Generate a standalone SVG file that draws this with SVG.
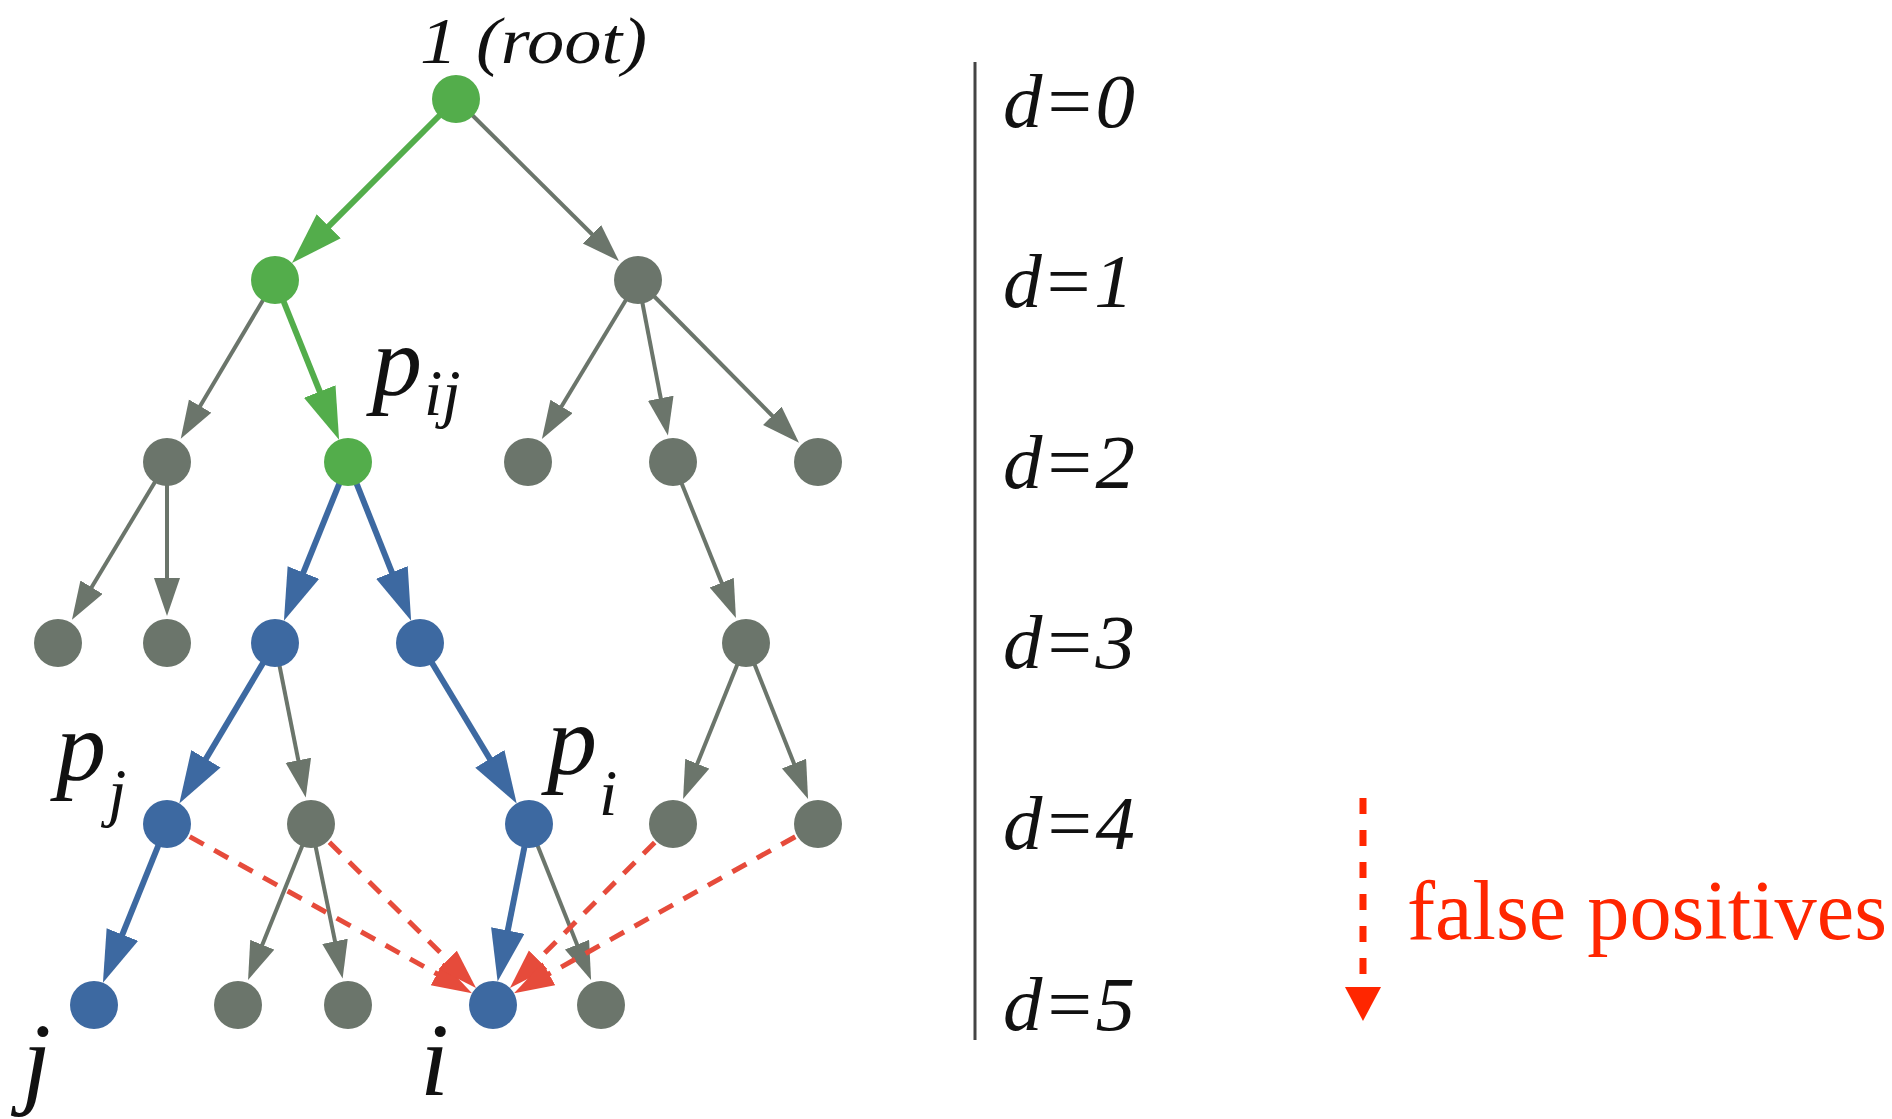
<svg xmlns="http://www.w3.org/2000/svg" width="1892" height="1119" viewBox="0 0 1892 1119">
<defs>
<style>
.g{stroke:#6B756B;stroke-width:4;fill:none}
.gr{stroke:#53AD4B;stroke-width:6;fill:none}
.b{stroke:#3D69A1;stroke-width:6;fill:none}
.r{stroke:#E64B3B;stroke-width:5;fill:none;stroke-dasharray:16 12}
.ng{fill:#6B756B}.ngr{fill:#53AD4B}.nb{fill:#3D69A1}
.m{font-family:"Liberation Serif","DejaVu Serif",serif;font-style:italic;fill:#111}
.lv{font-family:"Liberation Serif","DejaVu Serif",serif;font-style:italic;font-size:76px;fill:#111}
</style>
<marker id="ag" markerUnits="userSpaceOnUse" markerWidth="40" markerHeight="30" refX="4" refY="13" orient="auto"><path d="M0,0 L38,13 L0,26 z" fill="#6B756B"/></marker>
<marker id="agr" markerUnits="userSpaceOnUse" markerWidth="54" markerHeight="36" refX="4" refY="17" orient="auto"><path d="M0,0 L52,17 L0,34 z" fill="#53AD4B"/></marker>
<marker id="ab" markerUnits="userSpaceOnUse" markerWidth="54" markerHeight="36" refX="4" refY="17" orient="auto"><path d="M0,0 L52,17 L0,34 z" fill="#3D69A1"/></marker>
<marker id="ar" markerUnits="userSpaceOnUse" markerWidth="42" markerHeight="30" refX="4" refY="13" orient="auto"><path d="M0,0 L40,13 L0,26 z" fill="#E64B3B"/></marker>
</defs>
<rect width="1892" height="1119" fill="#fff"/>
<g id="connectors">
<line class="g" x1="456" y1="99" x2="594.8" y2="237.0" marker-end="url(#ag)"/>
<line class="g" x1="275" y1="280" x2="198.1" y2="409.5" marker-end="url(#ag)"/>
<line class="g" x1="638" y1="280" x2="559.5" y2="409.8" marker-end="url(#ag)"/>
<line class="g" x1="638" y1="280" x2="661.5" y2="402.1" marker-end="url(#ag)"/>
<line class="g" x1="638" y1="280" x2="775.1" y2="418.6" marker-end="url(#ag)"/>
<line class="g" x1="167" y1="462" x2="89.5" y2="590.7" marker-end="url(#ag)"/>
<line class="g" x1="167" y1="462" x2="167" y2="582" marker-end="url(#ag)"/>
<line class="g" x1="673" y1="462" x2="723.2" y2="586.4" marker-end="url(#ag)"/>
<line class="g" x1="275" y1="643" x2="299.1" y2="764.2" marker-end="url(#ag)"/>
<line class="g" x1="746" y1="643" x2="695.8" y2="767.4" marker-end="url(#ag)"/>
<line class="g" x1="746" y1="643" x2="795.5" y2="767.3" marker-end="url(#ag)"/>
<line class="g" x1="311" y1="824" x2="260.8" y2="948.4" marker-end="url(#ag)"/>
<line class="g" x1="311" y1="824" x2="335.8" y2="945.2" marker-end="url(#ag)"/>
<line class="g" x1="529" y1="824" x2="578.5" y2="948.3" marker-end="url(#ag)"/>
<line class="r" x1="189.7" y1="836.6" x2="440.5" y2="975.8" marker-end="url(#ar)"/>
<line class="r" x1="329.4" y1="842.3" x2="450.5" y2="962.7" marker-end="url(#ar)"/>
<line class="r" x1="654.7" y1="842.4" x2="535.3" y2="962.5" marker-end="url(#ar)"/>
<line class="r" x1="795.3" y1="836.7" x2="545.5" y2="975.8" marker-end="url(#ar)"/>
<line class="gr" x1="456" y1="99" x2="325.9" y2="229.1" marker-end="url(#agr)"/>
<line class="gr" x1="275" y1="280" x2="321.2" y2="395.2" marker-end="url(#agr)"/>
<line class="b" x1="348" y1="462" x2="301.9" y2="576.2" marker-end="url(#ab)"/>
<line class="b" x1="348" y1="462" x2="393.4" y2="576.1" marker-end="url(#ab)"/>
<line class="b" x1="275" y1="643" x2="203.9" y2="762.2" marker-end="url(#ab)"/>
<line class="b" x1="420" y1="643" x2="491.9" y2="762.3" marker-end="url(#ab)"/>
<line class="b" x1="167" y1="824" x2="120.9" y2="938.2" marker-end="url(#ab)"/>
<line class="b" x1="529" y1="824" x2="507.0" y2="934.4" marker-end="url(#ab)"/>
</g>
<g id="n-root"><circle class="ngr" cx="456" cy="99" r="24"/><text class="m" x="420" y="63" font-size="66" textLength="227" lengthAdjust="spacingAndGlyphs">1 (root)</text></g>
<g id="n-a1"><circle class="ngr" cx="275" cy="280" r="24"/></g>
<g id="n-a2"><circle class="ng" cx="638" cy="280" r="24"/></g>
<g id="n-b1"><circle class="ng" cx="167" cy="462" r="24"/></g>
<g id="n-pij"><circle class="ngr" cx="348" cy="462" r="24"/><text class="m" x="372" y="395" font-size="100">p</text><text class="m" x="424" y="415" font-size="66">ij</text></g>
<g id="n-b3"><circle class="ng" cx="528" cy="462" r="24"/></g>
<g id="n-b4"><circle class="ng" cx="673" cy="462" r="24"/></g>
<g id="n-b5"><circle class="ng" cx="818" cy="462" r="24"/></g>
<g id="n-c1"><circle class="ng" cx="58" cy="643" r="24"/></g>
<g id="n-c2"><circle class="ng" cx="167" cy="643" r="24"/></g>
<g id="n-c3"><circle class="nb" cx="275" cy="643" r="24"/></g>
<g id="n-c4"><circle class="nb" cx="420" cy="643" r="24"/></g>
<g id="n-c5"><circle class="ng" cx="746" cy="643" r="24"/></g>
<g id="n-pj"><circle class="nb" cx="167" cy="824" r="24"/><text class="m" x="56" y="780" font-size="100">p</text><text class="m" x="108" y="814" font-size="66">j</text></g>
<g id="n-d2"><circle class="ng" cx="311" cy="824" r="24"/></g>
<g id="n-pi"><circle class="nb" cx="529" cy="824" r="24"/><text class="m" x="547" y="774" font-size="100">p</text><text class="m" x="599" y="815" font-size="66">i</text></g>
<g id="n-d4"><circle class="ng" cx="673" cy="824" r="24"/></g>
<g id="n-d5"><circle class="ng" cx="818" cy="824" r="24"/></g>
<g id="n-j"><circle class="nb" cx="94" cy="1005" r="24"/><text class="m" x="22" y="1095" font-size="104">j</text></g>
<g id="n-e2"><circle class="ng" cx="238" cy="1005" r="24"/></g>
<g id="n-e3"><circle class="ng" cx="348" cy="1005" r="24"/></g>
<g id="n-i"><circle class="nb" cx="493" cy="1005" r="24"/><text class="m" x="420" y="1095" font-size="104">i</text></g>
<g id="n-e5"><circle class="ng" cx="601" cy="1005" r="24"/></g>
<g id="depth-axis">
<line x1="975" y1="62" x2="975" y2="1040" stroke="#444" stroke-width="3"/>
<text class="lv" x="1003" y="127" textLength="132" lengthAdjust="spacingAndGlyphs">d=0</text>
<text class="lv" x="1003" y="307" textLength="130" lengthAdjust="spacingAndGlyphs">d=1</text>
<text class="lv" x="1003" y="488" textLength="132" lengthAdjust="spacingAndGlyphs">d=2</text>
<text class="lv" x="1003" y="668" textLength="132" lengthAdjust="spacingAndGlyphs">d=3</text>
<text class="lv" x="1003" y="849" textLength="132" lengthAdjust="spacingAndGlyphs">d=4</text>
<text class="lv" x="1003" y="1030" textLength="132" lengthAdjust="spacingAndGlyphs">d=5</text>
</g>
<g id="legend">
<line x1="1363" y1="798" x2="1363" y2="986" stroke="#FF2600" stroke-width="7" stroke-dasharray="16 16"/>
<polygon points="1345,987 1381,987 1363,1021" fill="#FF2600"/>
<text x="1407" y="939" font-family="Liberation Serif, serif" font-size="84" fill="#FF2600" textLength="480" lengthAdjust="spacingAndGlyphs">false positives</text>
</g>
</svg>
